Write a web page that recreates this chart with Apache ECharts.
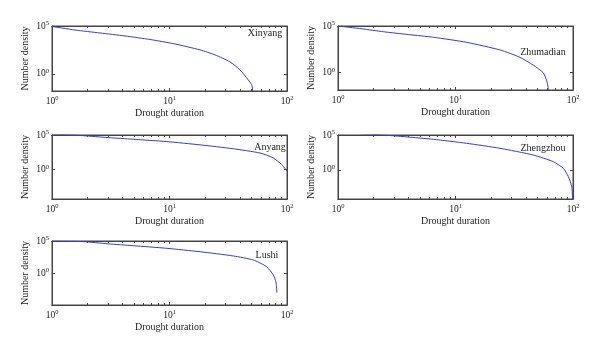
<!DOCTYPE html>
<html>
<head>
<meta charset="utf-8">
<script src="https://cdn.jsdelivr.net/npm/echarts@6/dist/echarts.min.js"></script>
<style>
  html, body { margin: 0; background: #fff; }
  #chart { width: 600px; height: 354px; }
</style>
</head>
<body>
<div id="chart"></div>
<script>
// station names, one panel each
const stations = ['Xinyang', 'Zhumadian', 'Anyang', 'Zhengzhou', 'Lushi'];

// drought duration (x) and number density (y)
const xinyangDuration = [1, 1.57, 2.56, 4.18, 6.8, 11.1, 18.2, 24.4, 32.7, 39.8, 46.6, 50.4, 52];
const xinyangDensity = [8.9e4, 3.8e4, 1.86e4, 9.1e3, 3.9e3, 1.33e3, 316, 95, 17.8, 2.6, 0.24, 0.056, 1e-4];

const zhumadianDuration = [1, 1.6, 2.43, 4, 6.5, 12.4, 24, 35.4, 45.8, 55.8, 59.5, 61.4, 62];
const zhumadianDensity = [1e5, 5e4, 2.45e4, 1.2e4, 6.2e3, 1.8e3, 270, 44, 6.6, 1, 0.16, 0.025, 1e-4];

const anyangDuration = [1, 1.5, 1.85, 3, 4.9, 9.5, 18.2, 34.9, 58.9, 76.4, 90, 100];
const anyangDensity = [1.4e5, 1e5, 8e4, 4.2e4, 2.4e4, 1.1e4, 3.7e3, 1e3, 240, 47, 5.1, 0.6];

const zhengzhouDuration = [1, 1.6, 2.4, 3.2, 6.5, 12.4, 23.9, 45.8, 67.9, 82.7, 91.3, 97.6, 100];
const zhengzhouDensity = [2.5e5, 1.5e5, 1e5, 7e4, 2.4e4, 6.5e3, 1.26e3, 138, 15.5, 1.74, 0.11, 4.1e-3, 1e-5];

const lushiDuration = [1, 1.85, 3, 4.9, 9.5, 18.2, 34.9, 51.7, 67.2, 76.4, 80.5, 82];
const lushiDensity = [1e5, 8e4, 3.6e4, 1.86e4, 7.2e3, 2.1e3, 460, 107, 9.5, 0.5, 0.04, 8e-4];

const durations = [xinyangDuration, zhumadianDuration, anyangDuration, zhengzhouDuration, lushiDuration];
const densities = [xinyangDensity, zhumadianDensity, anyangDensity, zhengzhouDensity, lushiDensity];

// tick values
const xMajorTicks = [1, 10, 100];
const xMinorTicks = [2, 3, 4, 5, 6, 7, 8, 9, 20, 30, 40, 50, 60, 70, 80, 90];
const yTicks = [1, 1e5];
const yMins = [0.0158, 0.014, 5e-5, 7e-5, 1e-5];
const yMax = 1e5;

const boxes = [
    {left: 52, top: 26, width: 235, height: 65},
    {left: 338, top: 26, width: 235, height: 64},
    {left: 52, top: 135, width: 235, height: 64},
    {left: 338, top: 135, width: 235, height: 64},
    {left: 52, top: 241, width: 235, height: 64}
];
const namePos = [[265, 33], [543, 52], [270, 147], [543, 148], [267, 255]];

const font = '"Liberation Serif", "DejaVu Serif", serif';
const ink = '#222';
const boxColor = '#444';
const lineColor = '#3a3ad8';

function powLabel(v) {
    return '10{s|' + Math.round(Math.log10(v)) + '}';
}
const labelStyle = {
    fontFamily: font, fontSize: 9.5, color: ink, lineHeight: 12,
    rich: {s: {fontFamily: font, fontSize: 6.5, color: ink, verticalAlign: 'top', lineHeight: 7}}
};

let grid = [], xAxis = [], yAxis = [], series = [], graphic = [];

boxes.forEach((b, i) => {
    grid.push(Object.assign({show: true, borderColor: boxColor, borderWidth: 1, outerBoundsMode: 'none'}, b));

    let baseX = {
        type: 'log', logBase: 10, min: 1, max: 100, gridIndex: i,
        splitLine: {show: false},
        axisLine: {onZero: false, lineStyle: {color: boxColor, width: 1}}
    };
    // bottom, with labels and major ticks
    xAxis.push(Object.assign({}, baseX, {
        position: 'bottom',
        name: 'Drought duration', nameLocation: 'middle', nameGap: 17,
        nameTextStyle: {fontFamily: font, fontSize: 10, color: ink},
        axisTick: {inside: true, length: 3, lineStyle: {color: boxColor}, customValues: xMajorTicks},
        axisLabel: Object.assign({margin: 4, formatter: powLabel, customValues: xMajorTicks}, labelStyle)
    }));
    // bottom minor ticks
    xAxis.push(Object.assign({}, baseX, {
        position: 'bottom',
        axisTick: {inside: true, length: 2, lineStyle: {color: boxColor}, customValues: xMinorTicks},
        axisLabel: {show: false}
    }));
    // top mirror ticks
    xAxis.push(Object.assign({}, baseX, {
        position: 'top',
        axisTick: {inside: true, length: 3, lineStyle: {color: boxColor}, customValues: xMajorTicks},
        axisLabel: {show: false}
    }));
    xAxis.push(Object.assign({}, baseX, {
        position: 'top',
        axisTick: {inside: true, length: 2, lineStyle: {color: boxColor}, customValues: xMinorTicks},
        axisLabel: {show: false}
    }));

    let baseY = {
        type: 'log', logBase: 10, min: yMins[i], max: yMax, gridIndex: i,
        splitLine: {show: false},
        axisLine: {onZero: false, lineStyle: {color: boxColor, width: 1}},
        axisTick: {inside: true, length: 3, lineStyle: {color: boxColor}, customValues: yTicks}
    };
    yAxis.push(Object.assign({}, baseY, {
        position: 'left',
        name: 'Number density', nameLocation: 'middle', nameGap: 22, nameRotate: 90,
        nameTextStyle: {fontFamily: font, fontSize: 10, color: ink},
        axisLabel: Object.assign({margin: 3, formatter: powLabel, customValues: yTicks}, labelStyle)
    }));
    yAxis.push(Object.assign({}, baseY, {
        position: 'right',
        axisLabel: {show: false}
    }));

    series.push({
        type: 'line',
        name: stations[i],
        xAxisIndex: i * 4,
        yAxisIndex: i * 2,
        data: durations[i].map((d, j) => [d, densities[i][j]]),
        symbol: 'none',
        smooth: 0.2,
        clip: true,
        lineStyle: {color: lineColor, width: 1},
        animation: false
    });

    graphic.push({
        type: 'text',
        x: namePos[i][0], y: namePos[i][1],
        style: {text: stations[i], align: 'center', verticalAlign: 'middle',
                font: '10px ' + font, fill: ink}
    });
});

let option = {
    animation: false,
    backgroundColor: '#fff',
    grid: grid,
    xAxis: xAxis,
    yAxis: yAxis,
    series: series,
    graphic: graphic
};
echarts.init(document.getElementById('chart')).setOption(option);
</script>
</body>
</html>
